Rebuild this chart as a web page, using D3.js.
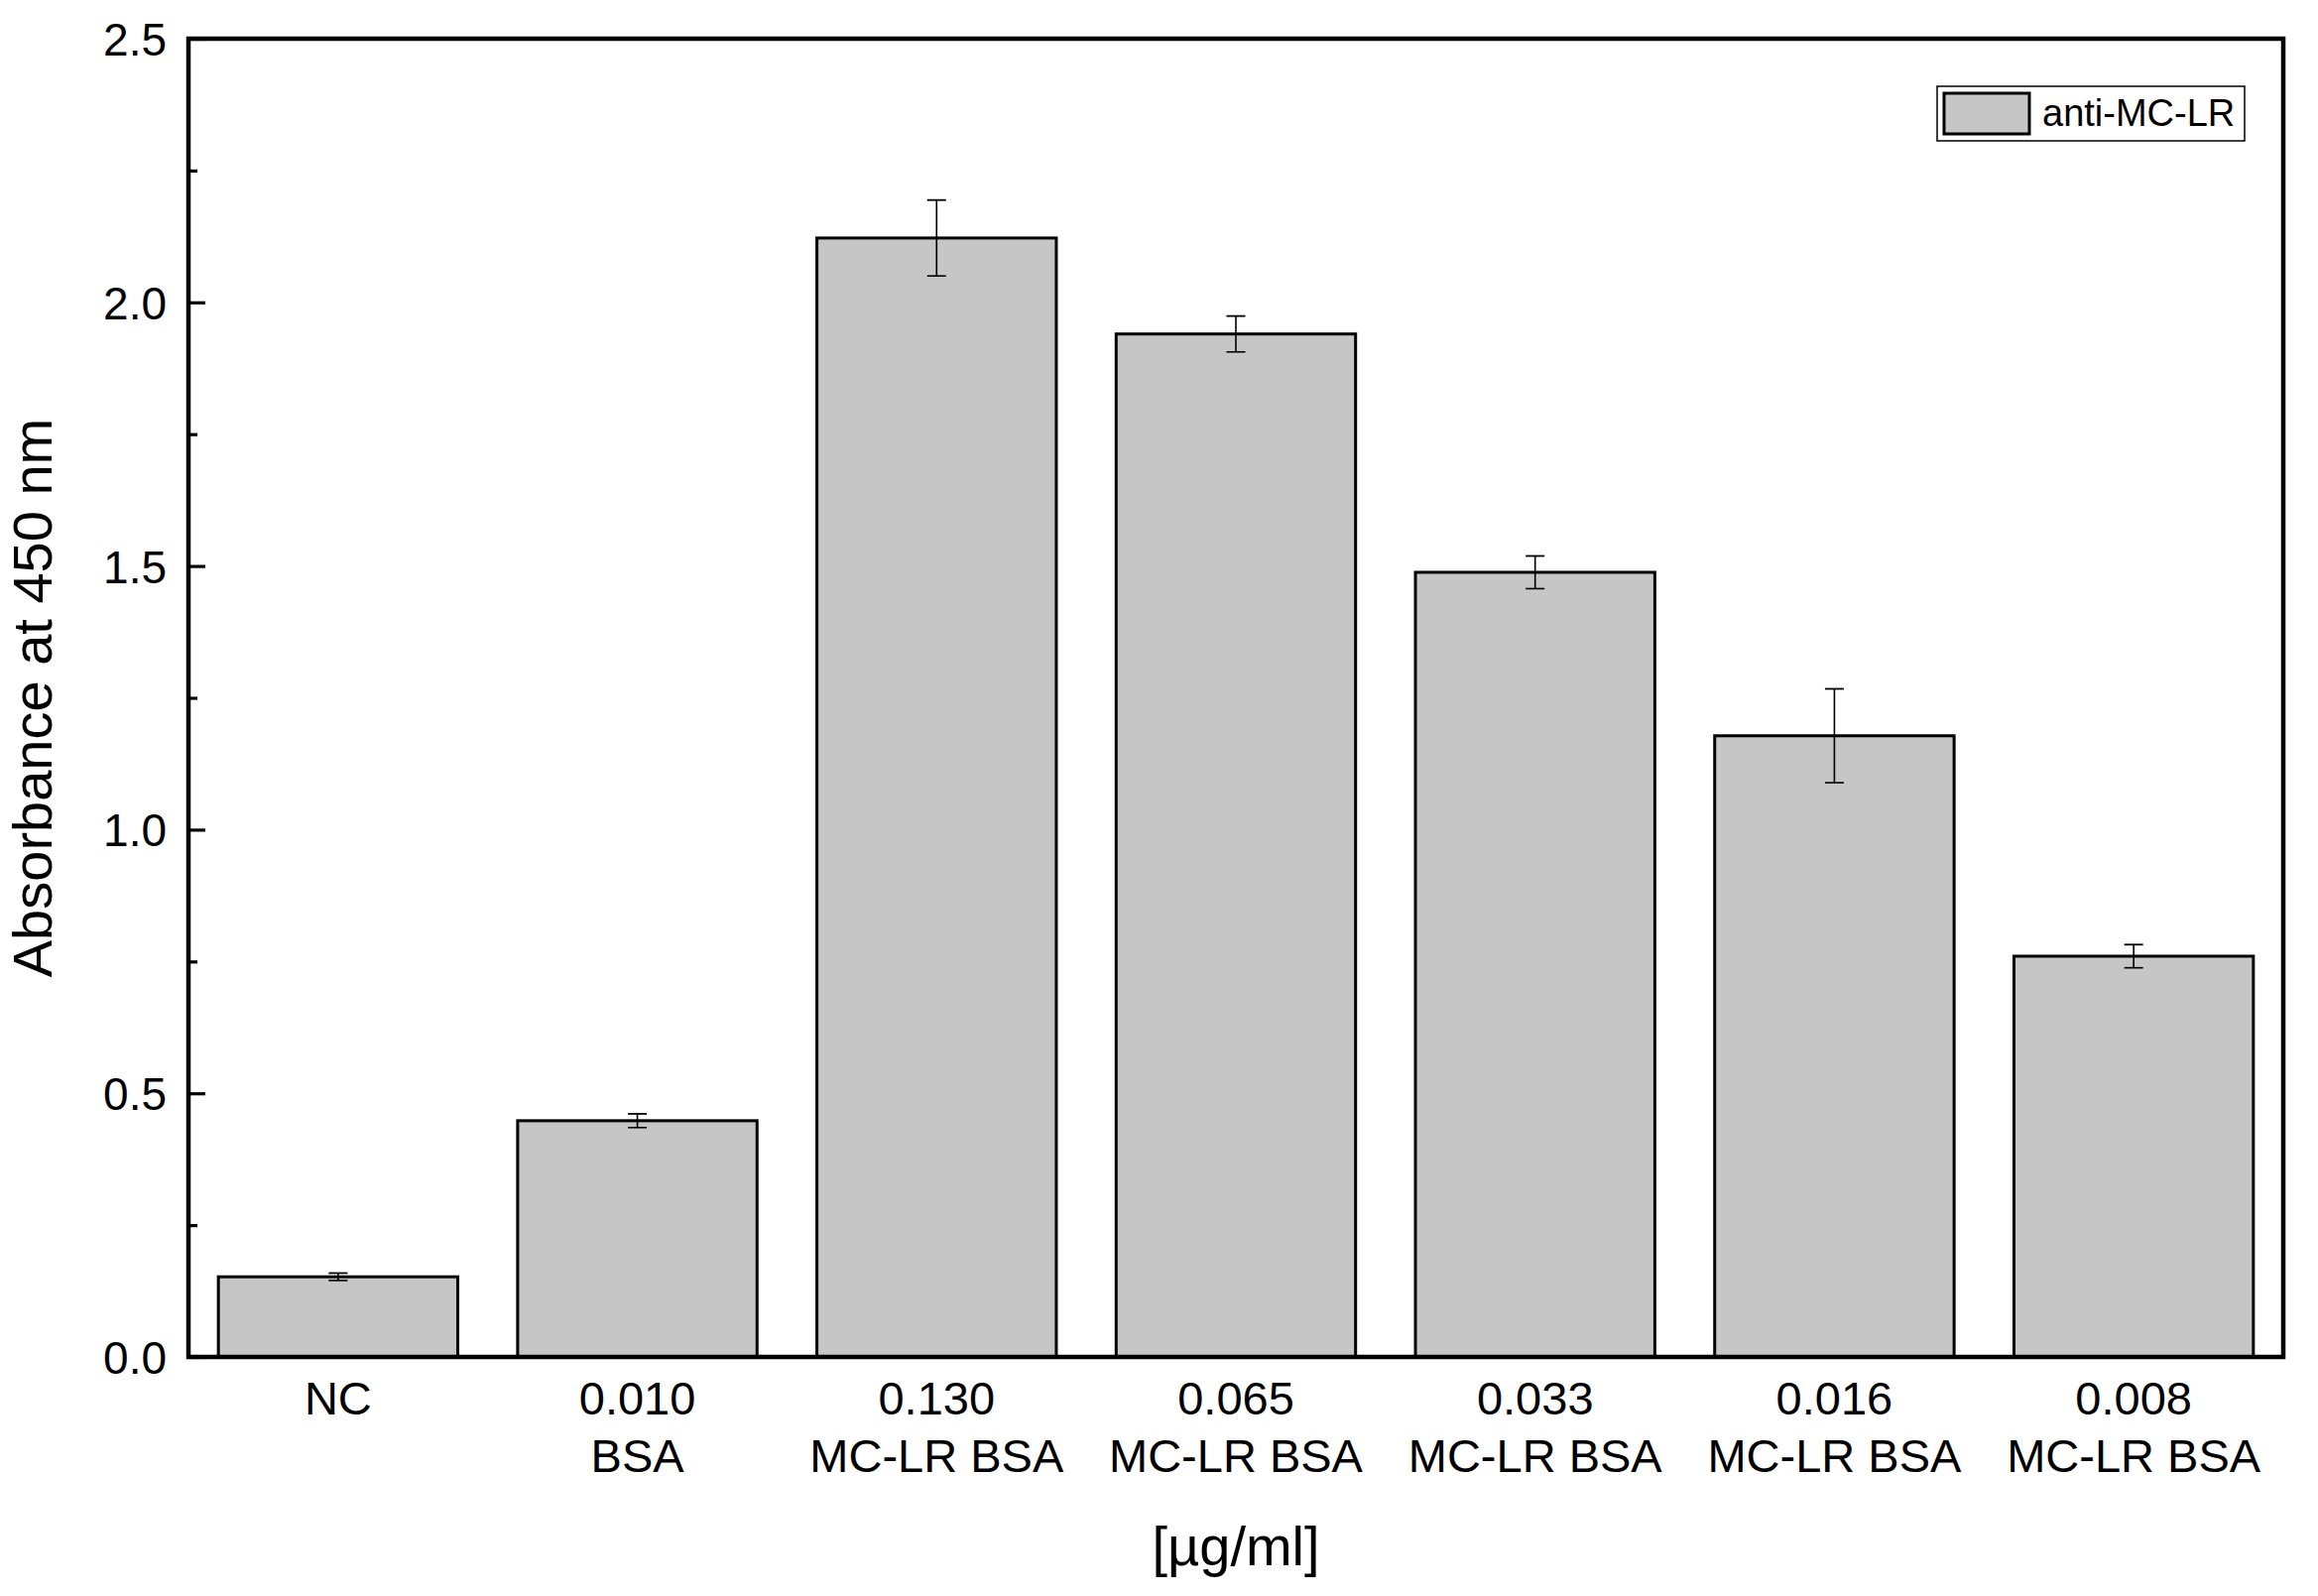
<!DOCTYPE html>
<html>
<head>
<meta charset="utf-8">
<script src="https://cdn.jsdelivr.net/npm/d3@7"></script>
<style>
  html, body { margin: 0; padding: 0; background: #fff; }
  svg { display: block; }
  text { font-family: "Liberation Sans", Arial, sans-serif; fill: #000; }
</style>
</head>
<body>
<svg id="chart" width="2337" height="1609"></svg>
<script>
// ---- data ----
const categories = ["NC", "0.010|BSA", "0.130|MC-LR BSA", "0.065|MC-LR BSA", "0.033|MC-LR BSA", "0.016|MC-LR BSA", "0.008|MC-LR BSA"];
const values = [0.152, 0.448, 2.122, 1.940, 1.488, 1.178, 0.760];
const errors = [0.007, 0.013, 0.072, 0.034, 0.031, 0.089, 0.022];
const yTicks = [0.0, 0.5, 1.0, 1.5, 2.0, 2.5];
const yMinorTicks = [0.25, 0.75, 1.25, 1.75, 2.25];
const seriesName = "anti-MC-LR";
const xTitle = "[µg/ml]";
const yTitle = "Absorbance at 450 nm";

// ---- layout ----
const W = 2337, H = 1609;
const m = { left: 190, right: W - 2302, top: 39, bottom: H - 1368 };
const iw = W - m.left - m.right, ih = H - m.top - m.bottom;
const fill = "#c6c6c6";

const svg = d3.select("#chart");
const g = svg.append("g").attr("transform", `translate(${m.left},${m.top})`);

const x = d3.scaleBand().domain(categories).range([0, iw]).paddingInner(0.2).paddingOuter(0.1);
const y = d3.scaleLinear().domain([0, 2.5]).range([ih, 0]);

// bars
g.selectAll("rect.bar").data(categories).enter().append("rect")
  .attr("class", "bar")
  .attr("x", d => x(d))
  .attr("width", x.bandwidth())
  .attr("y", (d, i) => y(values[i]))
  .attr("height", (d, i) => y(0) - y(values[i]))
  .attr("fill", fill).attr("stroke", "#000").attr("stroke-width", 3);

// error bars
const eb = g.selectAll("g.err").data(categories).enter().append("g").attr("class", "err")
  .attr("transform", d => `translate(${x(d) + x.bandwidth() / 2},0)`);
eb.append("line")
  .attr("y1", (d, i) => y(values[i] + errors[i]))
  .attr("y2", (d, i) => y(values[i] - errors[i]))
  .attr("stroke", "#000").attr("stroke-width", 1.6);
eb.append("line").attr("x1", -9.5).attr("x2", 9.5)
  .attr("y1", (d, i) => y(values[i] + errors[i])).attr("y2", (d, i) => y(values[i] + errors[i]))
  .attr("stroke", "#000").attr("stroke-width", 1.8);
eb.append("line").attr("x1", -9.5).attr("x2", 9.5)
  .attr("y1", (d, i) => y(values[i] - errors[i])).attr("y2", (d, i) => y(values[i] - errors[i]))
  .attr("stroke", "#000").attr("stroke-width", 1.6);

// y axis (inward ticks)
const yAxis = d3.axisLeft(y).tickValues(yTicks).tickFormat(d3.format(".1f")).tickSize(-17).tickPadding(22);
const ya = g.append("g").call(yAxis);
ya.select(".domain").remove();
ya.selectAll(".tick line").attr("stroke", "#000").attr("stroke-width", 3.2);
ya.selectAll(".tick text").attr("font-size", 46).attr("font-family", "Liberation Sans, Arial, sans-serif").attr("fill", "#000").attr("dy", "0.36em");
const yMinor = d3.axisLeft(y).tickValues(yMinorTicks).tickFormat("").tickSize(-9);
const ym = g.append("g").call(yMinor);
ym.select(".domain").remove();
ym.selectAll(".tick line").attr("stroke", "#000").attr("stroke-width", 3.2);

// x axis labels
const xAxis = d3.axisBottom(x).tickSize(0).tickFormat("");
const xa = g.append("g").attr("transform", `translate(0,${ih})`).call(xAxis);
xa.select(".domain").remove();
xa.selectAll(".tick").each(function (d) {
  const parts = d.split("|");
  const t = d3.select(this).append("text")
    .attr("text-anchor", "middle").attr("font-size", 47).attr("fill", "#000");
  parts.forEach((p, k) => {
    t.append("tspan").attr("x", 0).attr("y", 58 + k * 58).text(p);
  });
});

// frame
g.append("rect").attr("x", 0).attr("y", 0).attr("width", iw).attr("height", ih)
  .attr("fill", "none").attr("stroke", "#000").attr("stroke-width", 4.5);

// axis titles
svg.append("text").attr("x", m.left + iw / 2).attr("y", 1578)
  .attr("text-anchor", "middle").attr("font-size", 56).text(xTitle);
svg.append("text").attr("transform", `translate(52,${m.top + ih / 2}) rotate(-90)`)
  .attr("text-anchor", "middle").attr("font-size", 56).text(yTitle);

// legend
const lg = svg.append("g");
lg.append("rect").attr("x", 1953).attr("y", 87).attr("width", 310).attr("height", 55)
  .attr("fill", "#fff").attr("stroke", "#000").attr("stroke-width", 1.5);
lg.append("rect").attr("x", 1960).attr("y", 94).attr("width", 86).attr("height", 41)
  .attr("fill", fill).attr("stroke", "#000").attr("stroke-width", 3);
lg.append("text").attr("x", 2059).attr("y", 127).attr("font-size", 38).text(seriesName);
</script>
</body>
</html>
